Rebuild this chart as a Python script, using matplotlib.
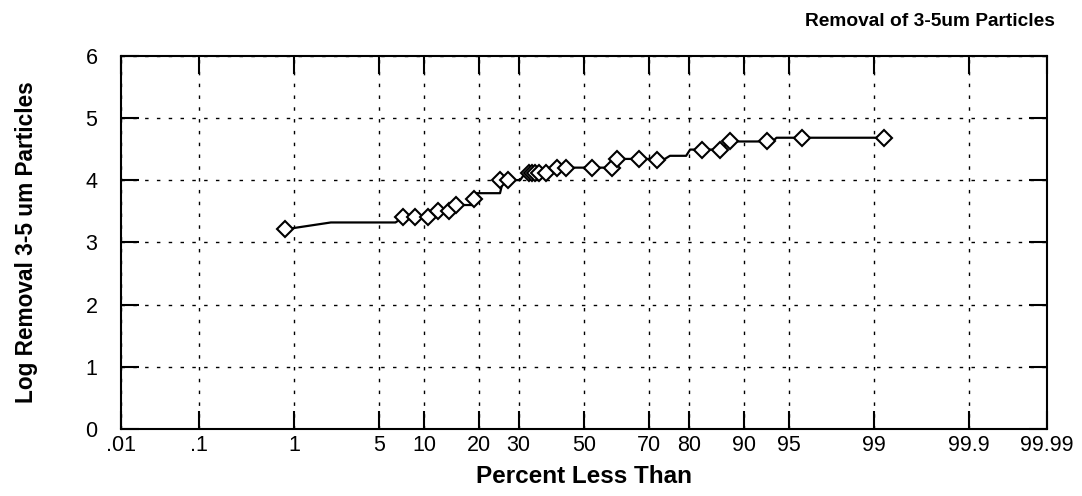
import math
import numpy as np
import matplotlib
matplotlib.use("Agg")
import matplotlib.pyplot as plt

plt.rcParams['font.family'] = ['Liberation Sans', 'DejaVu Sans']

# measured points (percent less than, log removal)
pct = [0.82, 7.3, 8.7, 10.5, 12.0, 13.9, 15.2, 18.9, 25.0, 27.0,
       32.9, 33.8, 34.7, 35.9, 38.0, 41.3, 44.3, 52.7, 59.0, 60.5,
       67.0, 72.0, 82.9, 86.3, 87.9, 92.9, 96.0, 99.2]
log_rem = [3.21, 3.40, 3.40, 3.40, 3.50, 3.50, 3.60, 3.70, 4.00, 4.00,
           4.11, 4.11, 4.11, 4.11, 4.11, 4.20, 4.20, 4.20, 4.19, 4.34,
           4.34, 4.32, 4.48, 4.48, 4.62, 4.62, 4.68, 4.68]

# stepped line through the data
line_pct = [0.82, 2.1, 6.5, 7.3, 10.5, 12.0, 13.9, 15.2, 18.9, 19.3, 25.0, 25.8,
            30.4, 31.8, 38.6, 39.9, 58.3, 59.5, 74.2, 75.5, 79.4, 80.3, 86.8,
            87.5, 93.5, 93.9, 99.2]
line_val = [3.21, 3.32, 3.32, 3.40, 3.40, 3.50, 3.50, 3.60, 3.60, 3.79, 3.79, 4.00,
            4.00, 4.11, 4.11, 4.20, 4.20, 4.34, 4.34, 4.39, 4.39, 4.49, 4.49,
            4.62, 4.62, 4.68, 4.68]

xticks = [0.01, 0.1, 1, 5, 10, 20, 30, 50, 70, 80, 90, 95, 99, 99.9, 99.99]
xticklabels = ['.01', '.1', '1', '5', '10', '20', '30', '50', '70', '80',
               '90', '95', '99', '99.9', '99.99']
yticks = [0, 1, 2, 3, 4, 5, 6]

# normal probability scale
_z = np.linspace(-5, 5, 40001)
_cdf = 0.5 * (1 + np.array([math.erf(v / math.sqrt(2)) for v in _z]))


def fwd(p):
    p = np.clip(np.asarray(p, dtype=float) / 100.0, _cdf[0], _cdf[-1])
    return np.interp(p, _cdf, _z)


def inv(z):
    z = np.clip(np.asarray(z, dtype=float), -5, 5)
    return 100.0 * np.interp(z, _z, _cdf)


fig = plt.figure(figsize=(10.82, 4.96), dpi=100)
ax = fig.add_axes([121 / 1082, 1 - 429.3 / 496, 926 / 1082, 373.8 / 496])
ax.set_xscale('function', functions=(fwd, inv))
ax.set_xlim(0.01, 99.99)
ax.set_ylim(0, 6)

ax.plot(line_pct, line_val, color='black', lw=1.6, zorder=3)
ax.plot(pct, log_rem, ls='none', marker='D', ms=8, mfc='white', mec='black',
        mew=1.5, zorder=4)

ax.set_xticks(xticks)
ax.set_xticklabels(xticklabels)
ax.set_yticks(yticks)
ax.xaxis.set_minor_locator(matplotlib.ticker.NullLocator())
ax.tick_params(direction='in', length=13, width=1.5, labelsize=15.5,
               top=True, right=True)
ax.tick_params(axis='x', pad=4)
ax.tick_params(axis='y', pad=17)
for s in ax.spines.values():
    s.set_linewidth(1.5)
ax.grid(True, color='black', lw=1.0, ls=(0, (2.5, 6)))

ax.set_xlabel('Percent Less Than', fontsize=17.5, fontweight='bold')
ax.xaxis.set_label_coords(0.5, -0.095)
ax.set_ylabel('Log Removal 3-5 um Particles', fontsize=16.3, fontweight='bold')
ax.yaxis.set_label_coords(-0.09, 0.5)
fig.text(1055 / 1082, 1 - 22 / 496, 'Removal of 3-5um Particles', ha='right',
         va='center', fontsize=13.8, fontweight='bold')

fig.savefig('out.png', dpi=100)
